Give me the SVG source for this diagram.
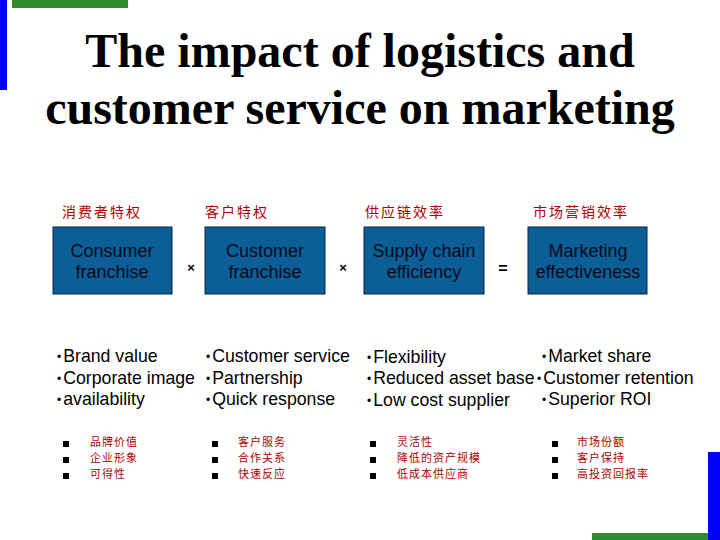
<svg xmlns="http://www.w3.org/2000/svg" width="720" height="540" viewBox="0 0 720 540">
<style>
.title{font-family:"Liberation Serif",serif;font-weight:bold;font-size:48px;fill:#000;text-anchor:middle}
.box{fill:#0B5E96;stroke:#0a2340;stroke-width:1}
.bt{font-family:"Liberation Sans",Arial,sans-serif;font-size:18px;fill:#020a1c;text-anchor:middle}
.cn{font-family:"Noto Sans CJK SC",sans-serif;font-size:14px;letter-spacing:2px;fill:#b00000}
.cns{font-family:"Noto Sans CJK SC",sans-serif;font-size:11px;letter-spacing:1px;fill:#b00000}
.en{font-family:"Liberation Sans",Arial,sans-serif;font-size:17.7px;fill:#000}
.b{font-size:12px}
.op{font-family:"Liberation Sans",Arial,sans-serif;font-size:13px;font-weight:bold;fill:#000;text-anchor:middle}
.sq{fill:#000}
</style>
<rect x="0" y="0" width="7" height="90" fill="#0000ff"/>
<rect x="12" y="0" width="116" height="8" fill="#2e8b2e"/>
<rect x="708" y="452" width="12" height="88" fill="#0000ff"/>
<rect x="592" y="533" width="116" height="7" fill="#2e8b2e"/>
<text class="title" x="360" y="67">The impact of logistics and</text>
<text class="title" x="360" y="124">customer service on marketing</text>
<g id="n1">
<text class="cn" x="62" y="217">消费者特权</text>
<rect class="box" x="53" y="227" width="119" height="67"/>
<text class="bt" x="112" y="257">Consumer</text>
<text class="bt" x="112" y="278">franchise</text>
</g>
<g id="n2">
<text class="cn" x="205" y="217">客户特权</text>
<rect class="box" x="205" y="227" width="120" height="67"/>
<text class="bt" x="265" y="257">Customer</text>
<text class="bt" x="265" y="278">franchise</text>
</g>
<g id="n3">
<text class="cn" x="365" y="217">供应链效率</text>
<rect class="box" x="364" y="227" width="120" height="67"/>
<text class="bt" x="424" y="257">Supply chain</text>
<text class="bt" x="424" y="278">efficiency</text>
</g>
<g id="n4">
<text class="cn" x="533" y="217">市场营销效率</text>
<rect class="box" x="528" y="227" width="119" height="67"/>
<text class="bt" x="588" y="257">Marketing</text>
<text class="bt" x="588" y="278">effectiveness</text>
</g>
<g id="connectors">
<text class="op" x="191" y="272">×</text>
<text class="op" x="343" y="272">×</text>
<text class="op" x="503" y="274" style="font-size:16px">=</text>
</g>
<g id="english">
<text class="en" x="57" y="362"><tspan class="b" dy="-1">•</tspan><tspan dx="2" dy="1">Brand value</tspan></text>
<text class="en" x="57" y="384"><tspan class="b" dy="-1">•</tspan><tspan dx="2" dy="1">Corporate image</tspan></text>
<text class="en" x="57" y="405"><tspan class="b" dy="-1">•</tspan><tspan dx="2" dy="1">availability</tspan></text>
<text class="en" x="206" y="362"><tspan class="b" dy="-1">•</tspan><tspan dx="2" dy="1">Customer service</tspan></text>
<text class="en" x="206" y="384"><tspan class="b" dy="-1">•</tspan><tspan dx="2" dy="1">Partnership</tspan></text>
<text class="en" x="206" y="405"><tspan class="b" dy="-1">•</tspan><tspan dx="2" dy="1">Quick response</tspan></text>
<text class="en" x="367" y="363"><tspan class="b" dy="-1">•</tspan><tspan dx="2" dy="1">Flexibility</tspan></text>
<text class="en" x="367" y="384"><tspan class="b" dy="-1">•</tspan><tspan dx="2" dy="1">Reduced asset base</tspan></text>
<text class="en" x="367" y="406"><tspan class="b" dy="-1">•</tspan><tspan dx="2" dy="1">Low cost supplier</tspan></text>
<text class="en" x="542" y="362"><tspan class="b" dy="-1">•</tspan><tspan dx="2" dy="1">Market share</tspan></text>
<text class="en" x="537" y="384"><tspan class="b" dy="-1">•</tspan><tspan dx="2" dy="1">Customer retention</tspan></text>
<text class="en" x="542" y="405"><tspan class="b" dy="-1">•</tspan><tspan dx="2" dy="1">Superior ROI</tspan></text>
</g>
<g id="chinese">
<rect class="sq" x="63" y="441" width="6" height="6"/>
<rect class="sq" x="63" y="457" width="6" height="6"/>
<rect class="sq" x="63" y="473" width="6" height="6"/>
<text class="cns" x="90" y="446">品牌价值</text>
<text class="cns" x="90" y="462">企业形象</text>
<text class="cns" x="90" y="478">可得性</text>
<rect class="sq" x="212" y="441" width="6" height="6"/>
<rect class="sq" x="212" y="457" width="6" height="6"/>
<rect class="sq" x="212" y="473" width="6" height="6"/>
<text class="cns" x="238" y="446">客户服务</text>
<text class="cns" x="238" y="462">合作关系</text>
<text class="cns" x="238" y="478">快速反应</text>
<rect class="sq" x="370" y="441" width="6" height="6"/>
<rect class="sq" x="370" y="457" width="6" height="6"/>
<rect class="sq" x="370" y="473" width="6" height="6"/>
<text class="cns" x="397" y="446">灵活性</text>
<text class="cns" x="397" y="462">降低的资产规模</text>
<text class="cns" x="397" y="478">低成本供应商</text>
<rect class="sq" x="552" y="441" width="6" height="6"/>
<rect class="sq" x="552" y="457" width="6" height="6"/>
<rect class="sq" x="552" y="473" width="6" height="6"/>
<text class="cns" x="577" y="446">市场份额</text>
<text class="cns" x="577" y="462">客户保持</text>
<text class="cns" x="577" y="478">高投资回报率</text>
</g>
</svg>
